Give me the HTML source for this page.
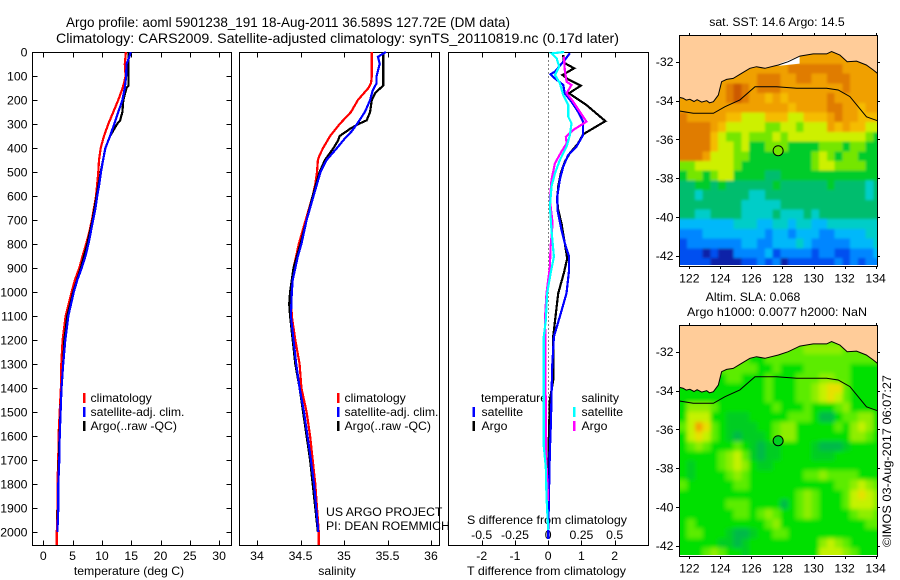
<!DOCTYPE html>
<html>
<head>
<meta charset="utf-8">
<title>Argo profile</title>
<style>
html,body{margin:0;padding:0;background:#fff;}
svg{display:block;font-family:"Liberation Sans",sans-serif;font-size:12.25px;fill:#000;}
text{fill:#000;}
</style>
</head>
<body>
<svg id="chart" xmlns="http://www.w3.org/2000/svg" width="900" height="580" viewBox="0 0 900 580">
<rect x="0" y="0" width="900" height="580" fill="#fff"/>
<text x="66" y="27" font-size="14" textLength="444" lengthAdjust="spacingAndGlyphs">Argo profile: aoml 5901238_191 18-Aug-2011 36.589S 127.72E (DM data)</text>
<text x="56" y="43" font-size="14" textLength="563" lengthAdjust="spacingAndGlyphs">Climatology: CARS2009. Satellite-adjusted climatology: synTS_20110819.nc (0.17d later)</text>
<text x="129" y="575" text-anchor="middle">temperature (deg C)</text>
<text x="337" y="575" text-anchor="middle">salinity</text>
<text x="467" y="575" textLength="159" lengthAdjust="spacingAndGlyphs">T difference from climatology</text>
<text x="467" y="524" textLength="160" lengthAdjust="spacingAndGlyphs">S difference from climatology</text>
<text x="326" y="516">US ARGO PROJECT</text>
<text x="326" y="530">PI: DEAN ROEMMICH</text>
<text x="777" y="26" text-anchor="middle">sat. SST: 14.6 Argo: 14.5</text>
<text x="753" y="301" text-anchor="middle">Altim. SLA: 0.068</text>
<text x="687" y="316" textLength="180" lengthAdjust="spacingAndGlyphs">Argo h1000: 0.0077 h2000: NaN</text>
<text transform="translate(891,547) rotate(-90)" textLength="172" lengthAdjust="spacingAndGlyphs">©IMOS 03-Aug-2017 06:07:27</text>
<text x="90.5" y="402">climatology</text>
<text x="90.5" y="416">satellite-adj. clim.</text>
<text x="90.5" y="430">Argo(..raw -QC)</text>
<text x="344.5" y="402">climatology</text>
<text x="344.5" y="416">satellite-adj. clim.</text>
<text x="344.5" y="430">Argo(..raw -QC)</text>
<text x="481" y="402">temperature</text>
<text x="481.5" y="416">satellite</text>
<text x="481.5" y="430">Argo</text>
<text x="581.5" y="402">salinity</text>
<text x="581.5" y="416">satellite</text>
<text x="581.5" y="430">Argo</text>
</svg>
<script>
// ---------- tick labels ----------
const depthTicks = [0,100,200,300,400,500,600,700,800,900,1000,1100,1200,1300,1400,1500,1600,1700,1800,1900,2000];
const tempTicks = [0,5,10,15,20,25,30];
const salTicks = [34,34.5,35,35.5,36];
const tDiffTicks = [-2,-1,0,1,2];
const sDiffTicks = [-0.5,-0.25,0,0.25,0.5];
const lonTicks = [122,124,126,128,130,132,134];
const latTicks = [-32,-34,-36,-38,-40,-42];

// ---------- temperature profiles ----------
const tempClimDepth = [0,50,100,130,150,200,250,300,350,400,450,500,550,600,650,700,750,800,850,900,950,1000,1100,1200,1300,1400,1500,1600,1700,1800,1900,2000,2054];
const tempClimValues = [14.1,13.9,14.05,13.77,13.54,12.8,11.95,11.1,10.35,9.8,9.5,9.39,9.2,9.0,8.65,8.3,7.85,7.3,6.7,6.14,5.4,4.83,3.8,3.3,3.07,3.0,2.8,2.6,2.56,2.4,2.4,2.3,2.3];
const tempSatDepth = [0,20,50,100,150,200,250,300,350,400,450,500,550,600,650,700,750,800,850,900,950,1000,1100,1200,1300,1400,1500,1600,1700,1800,1900,2000];
const tempSatValues = [14.9,14.7,14.2,14.15,13.9,13.5,12.8,12.1,11.4,10.6,10.2,9.85,9.55,9.2,8.9,8.5,8.1,7.7,7.2,6.55,5.8,5.2,4.27,3.75,3.4,3.1,2.95,2.8,2.73,2.56,2.56,2.4];
const tempArgoDepth = [0,140,150,200,250,285,300,350,400,500,600,700,800,900,1000,1100,1200,1300,1400,1650,2000];
const tempArgoValues = [14.55,14.55,14.2,13.65,13.5,13.1,12.6,11.4,10.6,9.8,9.1,8.4,7.5,6.4,5.1,4.1,3.6,3.4,3.1,2.7,2.4];

// ---------- salinity profiles ----------
const salClimDepth = [0,100,130,150,200,250,300,350,400,430,450,500,550,600,650,700,750,800,850,900,950,1000,1100,1200,1300,1400,1500,1600,1700,1800,1900,2000,2054];
const salClimValues = [35.32,35.32,35.31,35.28,35.16,35.08,34.95,34.84,34.76,34.72,34.7,34.69,34.67,34.64,34.6,34.56,34.52,34.48,34.45,34.42,34.4,34.39,34.4,34.44,34.49,34.51,34.57,34.61,34.64,34.67,34.69,34.71,34.71];
const salSatDepth = [0,20,50,100,130,160,200,250,300,330,360,400,450,500,550,600,650,700,750,800,850,900,950,1000,1100,1200,1300,1400,1500,1600,1700,1800,1900,2000];
const salSatValues = [35.48,35.39,35.41,35.375,35.375,35.33,35.3,35.24,35.15,35.09,35.01,34.92,34.8,34.73,34.69,34.65,34.61,34.57,34.54,34.51,34.47,34.44,34.41,34.4,34.39,34.42,34.45,34.49,34.54,34.58,34.62,34.655,34.68,34.705];
const salArgoDepth = [0,140,170,200,250,285,300,320,350,370,400,450,500,600,700,800,900,1000,1050,1100,1300,1400,1700,2000];
const salArgoValues = [35.45,35.45,35.36,35.32,35.3,35.26,35.165,35.07,34.95,34.93,34.88,34.78,34.72,34.64,34.57,34.5,34.42,34.38,34.37,34.38,34.44,34.49,34.61,34.7];

// ---------- difference profiles ----------
const tDiffArgoDepth = [12,44,68,96,114,140,172,221,288,343,381,422,457,506,561,617,658,714,797,860,922,1006,1103,1186,1367,1450,1658,1853];
const tDiffArgoValues = [0.45,0.47,0.78,0.43,0.6,0.98,0.63,1.15,1.72,1.05,0.9,0.65,0.5,0.38,0.3,0.27,0.3,0.4,0.5,0.57,0.47,0.3,0.22,0.15,0.15,0.05,0.01,0.01];
const tDiffSatDepth = [5,33,82,93,110,137,172,207,249,290,346,394,429,478,533,603,658,742,797,853,908,1006,1103,1186,1311,1547,1658,1853,2030];
const tDiffSatValues = [0.65,0.5,0.2,0.07,0.2,0.45,0.5,0.7,0.9,1.05,1.05,0.85,0.6,0.45,0.35,0.27,0.28,0.4,0.5,0.63,0.63,0.55,0.35,0.17,0.12,0.08,0.05,0.02,0];
const sDiffArgoDepth = [19,75,124,137,172,207,249,290,325,353,381,415,464,533,617,714,811,894,1006,1117,1200,1658,1870];
const sDiffArgoValues = [0.118,0.125,0.138,0.175,0.138,0.188,0.238,0.288,0.188,0.133,0.138,0.1,0.05,0.025,0.013,0.033,0.018,0.013,-0.013,-0.025,-0.02,-0.018,0];
const sDiffSatDepth = [0,6,26,61,96,130,179,221,269,297,346,394,450,506,561,644,742,853,922,1006,1117,1186,1644,1728,1853,1992];
const sDiffSatValues = [0.12,0.025,0.063,0.083,0.05,0.088,0.113,0.15,0.15,0.175,0.163,0.138,0.088,0.05,0.025,0.013,0.025,0.043,0.018,-0.008,-0.018,-0.033,-0.033,-0.018,-0.013,0];

// ---------- map data ----------
const coastLon = [121.36,121.6,121.8,122.04,122.3,122.5,122.8,123.12,123.3,123.55,123.87,124.08,124.4,124.83,125.37,125.9,126.33,126.87,127.73,128.37,129.12,129.98,130.84,131.16,131.7,132.17,132.77,133.4,133.85,134.11];
const coastLat = [-33.84,-33.88,-33.98,-33.94,-34.05,-33.96,-34.08,-34.01,-34.12,-34.06,-33.72,-33.03,-32.91,-32.86,-32.6,-32.34,-32.26,-32.34,-32.17,-32.0,-31.71,-31.6,-31.6,-31.48,-31.66,-32.0,-31.97,-32.17,-32.43,-32.6];
const isobathLon = [121.36,122.26,123.55,124.3,125.26,126.23,127.62,128.91,130.84,131.59,132.34,133.41,134.11];
const isobathLat = [-34.54,-34.66,-34.66,-34.32,-33.97,-33.29,-33.29,-33.37,-33.37,-33.46,-33.8,-34.84,-35.04];
const floatLon = 127.72;
const floatLat = -36.589;
// SST colour levels by grid row, north to south (0.5 degree cells)
const sstRows = [
"aaaaaaaaaaaaaaaaaaaaaaaaaa",
"aaaaaaaaaaaaaaaaaaaaaaaaaa",
"aaaaaaaaaaaaaaaaaaaaaaaaaa",
"aaaaaaaaaaaaaabbbbbbbaaaaa",
"aaaaaaaaaabbbaabbaabbbaaaa",
"aaaaaabcbabbbaaaaaaaabaaaa",
"aaaaaabcbaa9a9aaaaabaaaaaa",
"aaaaaaaaaaaaaa9aaaabbaa9aa",
"baaaaa9988899988999abaa999",
"bbbba98888877887888a9a9988",
"bbbb9877877787888888888876",
"bbbb9887866777666677767766",
"bbba8887766666666787677666",
"77888887666666666788777766",
"67767886666556666666666666",
"55665655555565555556555545",
"55455555544555555555555545",
"55555555444445555555555555",
"55445555444454445455555555",
"33333334443344344334444444",
"22233333333233233322333344",
"12222222332233343222223334",
"11101002222312222122112223",
"11110000112120111111212122"];
// SLA colour levels by grid row, north to south (0.5 degree cells)
const slaRows = [
"33333333333333333333333333",
"33333333333333333333333333",
"33333333333333334444433333",
"33333333322333333333333333",
"22222333332232223333332222",
"22222233222322233344332222",
"22222222222322233456632222",
"22222222222322233456532222",
"24443222222232223222342222",
"25552211122222333200233442",
"35763211112234422222324542",
"25653210111234422222224432",
"23432223210112222100012222",
"22222345310112222111222222",
"21222345421122222222222222",
"21222234322222223343333222",
"32222223322222222222334543",
"22222222222222234322235654",
"22222233322220234322235554",
"22222223323432234322223443",
"23222222222342222222222233",
"23322210012233222222222222",
"22222110122222222245432222",
"22234322122222222255543222"];
const noDataLon = [127.5,128.2,129.1,129.1,127.9];
const noDataLat = [-32.2,-31.98,-31.72,-32.1,-32.2];

// ---------- style tables ----------
const NS = 'http://www.w3.org/2000/svg';
const svg = document.getElementById('chart');
const sstPalette = {'0':'#0a22a8','1':'#0050f0','2':'#0086ff','3':'#00b8fa','4':'#00cdc8','5':'#00bd6e','6':'#00cc2c','7':'#74e600','8':'#cdf000','9':'#f5bc00','a':'#f0a000','b':'#e07c00','c':'#cc5a00'};
const slaPalette = {'0':'#00b94a','1':'#00cd22','2':'#00e000','3':'#5cec00','4':'#8eee00','5':'#c4f200','6':'#e8e000','7':'#f5a000'};

function add(tag, attrs, name, parent) {
  const el = document.createElementNS(NS, tag);
  for (const k in attrs) el.setAttribute(k, attrs[k]);
  
  
  (parent || svg).appendChild(el);
  return el;
}
function label(x, y, str, anchor, name) {
  const t = add('text', {x: x, y: y, 'text-anchor': anchor}, name);
  t.textContent = str;
  return t;
}

// ---------- axis functions ----------
const depthY = d => 52 + d * 0.24;
const tempX = t => 43.3 + t * 5.86;
const salX = s => 257 + (s - 34) * 87;
const tDiffX = t => 548.2 + t * 33.25;
const sDiffX = s => 548.2 + s * 133;
const TOP = 52.5, BOTTOM = 545.5;

function box(x0, x1, y0, y1, name) {
  add('rect', {x: x0, y: y0, width: x1 - x0, height: y1 - y0, fill: 'none', stroke: '#000', 'stroke-width': 1, 'shape-rendering': 'crispEdges'}, name);
}
function tick(x1, y1, x2, y2, name) {
  add('line', {x1: x1, y1: y1, x2: x2, y2: y2, stroke: '#000', 'stroke-width': 1, 'shape-rendering': 'crispEdges'}, name);
}
function profile(depths, values, xf, color, name) {
  const pts = depths.map((d, i) => xf(values[i]).toFixed(1) + ',' + depthY(d).toFixed(1)).join(' ');
  add('polyline', {points: pts, fill: 'none', stroke: color, 'stroke-width': 2.2, 'stroke-linejoin': 'miter', 'shape-rendering': 'crispEdges'}, name);
}
function swatch(x, y, color, name) {
  add('rect', {x: x - 1, y: y - 5, width: 2.5, height: 10, fill: color, 'shape-rendering': 'crispEdges'}, name);
}

// temperature panel
box(32.5, 231.5, TOP, BOTTOM, 'temperature-panel');
depthTicks.forEach(d => {
  const y = Math.round(depthY(d)) + 0.5;
  tick(32.5, y, 37.5, y, 'depth-tick-left');
  tick(226.5, y, 231.5, y, 'depth-tick-right');
  label(27.5, depthY(d) + 4.5, String(d), 'end', 'depth-tick-label');
});
tempTicks.forEach(t => {
  const x = Math.round(tempX(t)) + 0.5;
  tick(x, TOP, x, TOP + 5, 'temperature-tick-top');
  tick(x, BOTTOM - 5, x, BOTTOM, 'temperature-tick-bottom');
  label(tempX(t), 560, String(t), 'middle', 'temperature-tick-label');
});
profile(tempClimDepth, tempClimValues, tempX, '#f00', 'temperature-climatology-line');
profile(tempArgoDepth, tempArgoValues, tempX, '#000', 'temperature-argo-line');
profile(tempSatDepth, tempSatValues, tempX, '#00f', 'temperature-satellite-line');
swatch(84, 398, '#f00', 'temp-legend-swatch-climatology');
swatch(84, 412, '#00f', 'temp-legend-swatch-satellite');
swatch(84, 426, '#000', 'temp-legend-swatch-argo');

// salinity panel
box(239.5, 439.5, TOP, BOTTOM, 'salinity-panel');
salTicks.forEach(s => {
  const x = Math.round(salX(s)) + 0.5;
  tick(x, TOP, x, TOP + 5, 'salinity-tick-top');
  tick(x, BOTTOM - 5, x, BOTTOM, 'salinity-tick-bottom');
  label(salX(s), 560, String(s), 'middle', 'salinity-tick-label');
});
profile(salClimDepth, salClimValues, salX, '#f00', 'salinity-climatology-line');
profile(salArgoDepth, salArgoValues, salX, '#000', 'salinity-argo-line');
profile(salSatDepth, salSatValues, salX, '#00f', 'salinity-satellite-line');
swatch(338, 398, '#f00', 'sal-legend-swatch-climatology');
swatch(338, 412, '#00f', 'sal-legend-swatch-satellite');
swatch(338, 426, '#000', 'sal-legend-swatch-argo');

// difference panel
box(448.5, 648.5, TOP, BOTTOM, 'difference-panel');
add('line', {x1: 548.5, y1: TOP, x2: 548.5, y2: BOTTOM, stroke: '#000', 'stroke-width': 1, 'stroke-dasharray': '1 3', 'shape-rendering': 'crispEdges'}, 'zero-difference-line');
tDiffTicks.forEach(t => {
  const x = Math.round(tDiffX(t)) + 0.5;
  tick(x, TOP, x, TOP + 5, 't-difference-tick-top');
  tick(x, BOTTOM - 5, x, BOTTOM, 't-difference-tick-bottom');
  label(tDiffX(t), 560, String(t), 'middle', 't-difference-tick-label');
});
sDiffTicks.forEach(s => {
  label(sDiffX(s), 539, String(s), 'middle', 's-difference-tick-label');
});
profile(tDiffArgoDepth, tDiffArgoValues, tDiffX, '#000', 't-difference-argo-line');
profile(tDiffSatDepth, tDiffSatValues, tDiffX, '#00f', 't-difference-satellite-line');
profile(sDiffArgoDepth, sDiffArgoValues, sDiffX, '#f0f', 's-difference-argo-line');
profile(sDiffSatDepth, sDiffSatValues, sDiffX, '#0ff', 's-difference-satellite-line');
swatch(473.7, 412, '#00f', 'diff-legend-swatch-t-satellite');
swatch(473.7, 426, '#000', 'diff-legend-swatch-t-argo');
swatch(574, 412, '#0ff', 'diff-legend-swatch-s-satellite');
swatch(574, 426, '#f0f', 'diff-legend-swatch-s-argo');

// ---------- maps ----------
const lonX = lon => 689.3 + (lon - 122) * 15.53;
const LON0 = 121.36, LAT0 = -30.62, CELL = 0.5;

function drawMap(key, top, bottom, dataBottom, lat32Y, rows, palette, markerFill, blur) {
  const latY = lat => lat32Y + (-32 - lat) * 19.4;
  const left = lonX(LON0), right = 877.5;
  const clipId = 'clip-' + key;
  const filterId = 'blur-' + key;
  const defs = add('clipPath', {id: clipId}, key + '-clip');
  add('rect', {x: left, y: top, width: right - left, height: dataBottom - top}, key + '-clip-rect', defs);
  const flt = add('filter', {id: filterId, x: '-10%', y: '-10%', width: '120%', height: '120%'}, key + '-smoothing');
  add('feGaussianBlur', {stdDeviation: blur}, key + '-smoothing-blur', flt);
  const g = add('g', {'clip-path': 'url(#' + clipId + ')'}, key + '-area');
  const cells = add('g', {filter: 'url(#' + filterId + ')'}, key + '-heatmap', g);
  rows.forEach((row, r) => {
    row.split('').forEach((ch, c) => {
      const lon = LON0 + c * CELL, lat = LAT0 - r * CELL;
      const x0 = lonX(lon), y0 = latY(lat);
      const padL = c === 0 ? 12 : 0;
      const padR = c === row.length - 1 ? 12 : 0.5;
      const padB = r === rows.length - 1 ? 12 : 0.5;
      add('rect', {x: x0 - padL, y: y0, width: lonX(lon + CELL) - x0 + padL + padR, height: latY(lat - CELL) - y0 + padB, fill: palette[ch], 'shape-rendering': 'crispEdges'}, key + '-cell', cells);
    });
  });
  const coast = coastLon.map((lon, i) => lonX(lon).toFixed(1) + ',' + latY(coastLat[i]).toFixed(1));
  const land = [lonX(LON0).toFixed(1) + ',' + top].concat(coast, [right + ',' + latY(-32.6).toFixed(1), right + ',' + top]).join(' ');
  add('polygon', {points: land, fill: '#ffcc99', stroke: 'none'}, key + '-land', g);
  if (key === 'sst-map') {
    const gap = noDataLon.map((lon, i) => lonX(lon).toFixed(1) + ',' + latY(noDataLat[i]).toFixed(1)).join(' ');
    add('polygon', {points: gap, fill: '#fff'}, key + '-no-data-patch', g);
  }
  add('polyline', {points: coast.join(' '), fill: 'none', stroke: '#000', 'stroke-width': 1}, key + '-coastline', g);
  const iso = isobathLon.map((lon, i) => lonX(lon).toFixed(1) + ',' + latY(isobathLat[i]).toFixed(1)).join(' ');
  add('polyline', {points: iso, fill: 'none', stroke: '#000', 'stroke-width': 1}, key + '-isobath', g);
  add('circle', {cx: lonX(floatLon), cy: latY(floatLat), r: 5, fill: markerFill, stroke: '#000', 'stroke-width': 1}, key + '-float-marker');
  box(679.5, 877.5, top + 0.5, bottom + 0.5, key + '-frame');
  lonTicks.forEach(lon => {
    const x = Math.round(lonX(lon)) + 0.5;
    tick(x, top - 2, x, top + 0.5, key + '-lon-tick-top');
    tick(x, bottom, x, bottom + 3, key + '-lon-tick-bottom');
    label(lonX(lon), bottom + 16.5, String(lon), 'middle', key + '-lon-tick-label');
  });
  latTicks.forEach(lat => {
    const y = Math.round(latY(lat)) + 0.5;
    tick(676, y, 679.5, y, key + '-lat-tick-left');
    tick(877.5, y, 880, y, key + '-lat-tick-right');
    label(673.5, latY(lat) + 4.5, String(lat), 'end', key + '-lat-tick-label');
  });
}
drawMap('sst-map', 35, 266, 265, 61.7, sstRows, sstPalette, '#74e600', 1.3);
drawMap('sla-map', 325, 556, 555, 351.7, slaRows, slaPalette, '#00d020', 2.2);
</script>
</body>
</html>
